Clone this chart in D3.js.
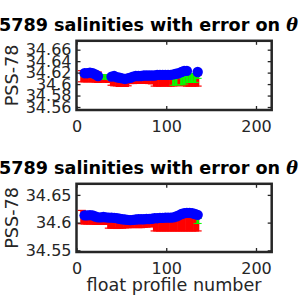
<!DOCTYPE html>
<html>
<head>
<meta charset="utf-8">
<script src="https://cdn.jsdelivr.net/npm/d3@7"></script>
<style>
body { margin: 0; background: #fff; }
svg text { font-family: "DejaVu Sans", sans-serif; fill: #262626; }
</style>
</head>
<body>
<svg id="chart" width="300" height="300"></svg>
<script>
// profile numbers shared by both panels
var profiles = [6,9,12,15,18,21,24,27,30,33,36,39,42,45,48,51,54,57,60,63,66,69,72,75,78,81,84,87,90,93,96,99,102,105,108,111,114,117,120,123,126,129,132,135];

// top panel
var floatSal1 = [null,34.619,34.619,34.620,34.619,34.617,34.614,null,null,null,null,34.613,34.614,34.612,34.611,34.610,34.609,34.610,34.611,34.613,34.614,34.614,34.614,34.615,34.615,34.615,34.615,34.615,34.616,34.616,34.616,34.616,34.616,34.616,34.617,34.618,34.619,34.621,34.623,34.623,null,null,null,34.621];
var mapped1 = [34.6137,34.6135,34.6135,34.6135,34.6135,34.613,34.612,34.6095,34.6095,34.6095,34.609,34.607,34.606,34.606,34.6055,34.606,34.6055,34.606,34.609,34.609,34.6095,34.6095,34.6095,34.6095,34.6095,34.609,34.6085,34.6055,34.6055,34.6055,34.6055,34.606,34.6055,34.6055,34.606,34.606,34.6065,34.607,34.6065,34.606,34.606,34.606,34.606,34.606];
var mappedErr1 = [0.0097,0.0095,0.0095,0.0095,0.0095,0.0095,0.009,0.006,0.006,0.006,0.006,0.009,0.009,0.009,0.0095,0.009,0.0095,0.009,0.008,0.008,0.008,0.008,0.008,0.008,0.008,0.008,0.008,0.009,0.009,0.009,0.009,0.009,0.009,0.009,0.009,0.009,0.009,0.009,0.0095,0.0095,0.0095,0.0095,0.0095,0.0095];
var cal1 = [null,34.617,34.617,34.618,34.617,34.615,34.613,34.6125,34.6125,34.6125,34.612,34.611,34.612,34.610,34.609,34.608,34.607,34.608,34.609,34.611,34.612,34.612,34.612,34.613,34.613,34.613,34.613,34.613,34.614,34.614,34.614,34.614,34.614,34.614,34.604,34.6045,34.616,34.605,34.607,34.6105,34.6105,34.6105,34.6105,34.614];
var calErr1 = [null,0.004,0.004,0.004,0.004,0.004,0.004,0.0035,0.0035,0.0035,0.0035,0.004,0.004,0.004,0.004,0.004,0.004,0.004,0.004,0.004,0.004,0.004,0.004,0.004,0.004,0.004,0.004,0.004,0.004,0.004,0.004,0.004,0.004,0.004,0.006,0.006,0.004,0.0065,0.007,0.0075,0.0075,0.0075,0.0075,0.004];

// bottom panel
var floatSal2 = [null,34.613,34.613,34.6135,34.613,34.611,34.6095,34.6095,34.610,34.6095,34.609,34.609,34.6085,34.608,34.607,34.606,34.6055,34.605,34.6045,34.605,34.6055,34.606,34.606,34.606,34.6065,34.6065,34.607,34.608,34.608,34.6085,34.6085,34.609,34.609,34.609,34.6095,34.611,34.613,34.6155,34.617,34.6175,34.6175,34.617,34.6155,34.614];
var mapped2 = [34.610,34.607,34.607,34.607,34.607,34.6065,34.6065,34.6065,34.606,34.606,34.600,34.600,34.600,34.5995,34.600,34.600,34.6005,34.601,34.601,34.601,34.6015,34.601,34.601,34.6015,34.602,34.6025,34.6025,34.597,34.597,34.597,34.597,34.597,34.597,34.597,34.5975,34.5975,34.5975,34.597,34.597,34.597,34.597,34.597,34.597,34.597];
var mappedErr2 = [0.012,0.0095,0.0095,0.0095,0.0095,0.0095,0.0095,0.0095,0.009,0.009,0.010,0.010,0.010,0.010,0.010,0.010,0.010,0.010,0.010,0.010,0.010,0.010,0.010,0.010,0.010,0.010,0.010,0.012,0.012,0.012,0.012,0.012,0.012,0.012,0.0125,0.0125,0.0125,0.012,0.012,0.012,0.012,0.012,0.012,0.012];
var cal2 = [null,34.612,34.612,34.6125,34.612,34.610,34.6085,34.6085,34.609,34.6085,34.608,34.608,34.6075,34.607,34.606,34.605,34.6045,34.604,34.6035,34.604,34.6045,34.605,34.605,34.605,34.6055,34.6055,34.606,34.607,34.607,34.6075,34.6075,34.608,34.608,34.608,34.6085,34.610,34.612,34.6145,34.616,34.6165,34.6165,34.616,34.6145,34.603];
var calErr2 = [null,0.004,0.004,0.004,0.004,0.004,0.004,0.004,0.004,0.004,0.004,0.004,0.004,0.004,0.004,0.004,0.004,0.004,0.004,0.004,0.004,0.004,0.004,0.004,0.004,0.004,0.004,0.004,0.004,0.004,0.004,0.004,0.004,0.004,0.004,0.004,0.004,0.004,0.004,0.004,0.004,0.004,0.004,0.0045];

var xTicks = [0, 100, 200];
var xTickLabels = ["0", "100", "200"];
var yTicks1 = [34.56, 34.58, 34.6, 34.62, 34.64, 34.66];
var yTickLabels1 = ["34.56", "34.58", "34.6", "34.62", "34.64", "34.66"];
var yTicks2 = [34.55, 34.6, 34.65];
var yTickLabels2 = ["34.55", "34.6", "34.65"];

var titleText = "6905789 salinities with error on ";
var yLabelText = "PSS-78";
var xLabelText = "float profile number";

var svg = d3.select("#chart");
var axColor = "#262626";
var left = 76.5, right = 271.7;
var tickFont = 16, labelFont = 17.6;

var x = d3.scaleLinear().domain([0, 217.5]).range([left, right]);

function drawPanel(top, bottom, yDomain, yTicks, yTickLabels, sal, mapped, mappedErr, cal, calErr, withXLabel) {
  var y = d3.scaleLinear().domain(yDomain).range([bottom, top]);
  var g = svg.append("g");

  var rows = profiles.map(function(p, i) {
    return {p: p, s: sal[i], m: mapped[i], me: mappedErr[i], c: cal[i], ce: calErr[i]};
  });

  // red error bars
  var red = g.append("g").attr("stroke", "#ff0000");
  var rr = rows.filter(function(d) { return d.m != null; });
  red.selectAll("line.v").data(rr).enter().append("line")
    .attr("x1", function(d) { return x(d.p); })
    .attr("x2", function(d) { return x(d.p); })
    .attr("y1", function(d) { return y(d.m - d.me); })
    .attr("y2", function(d) { return y(d.m + d.me); })
    .attr("stroke-width", 3.3);
  ["lo", "hi"].forEach(function(k) {
    red.selectAll("line." + k).data(rr).enter().append("line")
      .attr("x1", function(d) { return x(d.p) - 4; })
      .attr("x2", function(d) { return x(d.p) + 4; })
      .attr("y1", function(d) { return y(k == "lo" ? d.m - d.me : d.m + d.me); })
      .attr("y2", function(d) { return y(k == "lo" ? d.m - d.me : d.m + d.me); })
      .attr("stroke-width", 1.2);
  });

  // green error bars
  var green = g.append("g").attr("stroke", "#00ff00");
  var gr = rows.filter(function(d) { return d.c != null; });
  green.selectAll("line.v").data(gr).enter().append("line")
    .attr("x1", function(d) { return x(d.p); })
    .attr("x2", function(d) { return x(d.p); })
    .attr("y1", function(d) { return y(d.c - d.ce); })
    .attr("y2", function(d) { return y(d.c + d.ce); })
    .attr("stroke-width", 2.6);
  ["lo", "hi"].forEach(function(k) {
    green.selectAll("line." + k).data(gr).enter().append("line")
      .attr("x1", function(d) { return x(d.p) - 4; })
      .attr("x2", function(d) { return x(d.p) + 4; })
      .attr("y1", function(d) { return y(k == "lo" ? d.c - d.ce : d.c + d.ce); })
      .attr("y2", function(d) { return y(k == "lo" ? d.c - d.ce : d.c + d.ce); })
      .attr("stroke-width", 1);
  });

  // blue float salinities
  g.append("g").selectAll("circle")
    .data(rows.filter(function(d) { return d.s != null; }))
    .enter().append("circle")
    .attr("cx", function(d) { return x(d.p); })
    .attr("cy", function(d) { return y(d.s); })
    .attr("r", 5.2)
    .attr("fill", "#0000ff");

  // axes, ticks inside like matlab
  var xa = g.append("g").attr("transform", "translate(0," + bottom + ")")
    .call(d3.axisBottom(x).tickValues(xTicks).tickSize(-4).tickPadding(10.5)
      .tickFormat(function(d, i) { return xTickLabels[i]; }));
  var xt = g.append("g").attr("transform", "translate(0," + top + ")")
    .call(d3.axisTop(x).tickValues(xTicks).tickSize(-4).tickFormat(""));
  var ya = g.append("g").attr("transform", "translate(" + left + ",0)")
    .call(d3.axisLeft(y).tickValues(yTicks).tickSize(-4).tickPadding(5)
      .tickFormat(function(d, i) { return yTickLabels[i]; }));
  var yr = g.append("g").attr("transform", "translate(" + right + ",0)")
    .call(d3.axisRight(y).tickValues(yTicks).tickSize(-4).tickFormat(""));
  [xa, xt, ya, yr].forEach(function(a) {
    a.select(".domain").remove();
    a.selectAll(".tick line").attr("stroke", axColor).attr("stroke-width", 1.3);
    a.selectAll("text").attr("font-size", tickFont).attr("font-family", "DejaVu Sans").attr("fill", axColor);
  });

  g.append("rect")
    .attr("x", left).attr("y", top)
    .attr("width", right - left).attr("height", bottom - top)
    .attr("fill", "none").attr("stroke", axColor).attr("stroke-width", 2.5);

  var t = g.append("text")
    .attr("x", 298).attr("y", top - 9.5)
    .attr("text-anchor", "end")
    .attr("font-size", labelFont).attr("font-weight", "bold")
    .style("fill", "#000");
  t.append("tspan").text(titleText);
  t.append("tspan").attr("font-family", "DejaVu Serif").attr("font-style", "italic").text("θ");

  g.append("text")
    .attr("transform", "translate(18," + (top + bottom) / 2 + ") rotate(-90)")
    .attr("text-anchor", "middle")
    .attr("font-size", labelFont)
    .text(yLabelText);

  if (withXLabel) {
    g.append("text")
      .attr("x", (left + right) / 2).attr("y", 291)
      .attr("text-anchor", "middle")
      .attr("font-size", labelFont)
      .text(xLabelText);
  }
}

drawPanel(40.8, 110, [34.5548, 34.6755], yTicks1, yTickLabels1, floatSal1, mapped1, mappedErr1, cal1, calErr1, false);
drawPanel(183.8, 252, [34.547, 34.670], yTicks2, yTickLabels2, floatSal2, mapped2, mappedErr2, cal2, calErr2, true);
</script>
</body>
</html>
